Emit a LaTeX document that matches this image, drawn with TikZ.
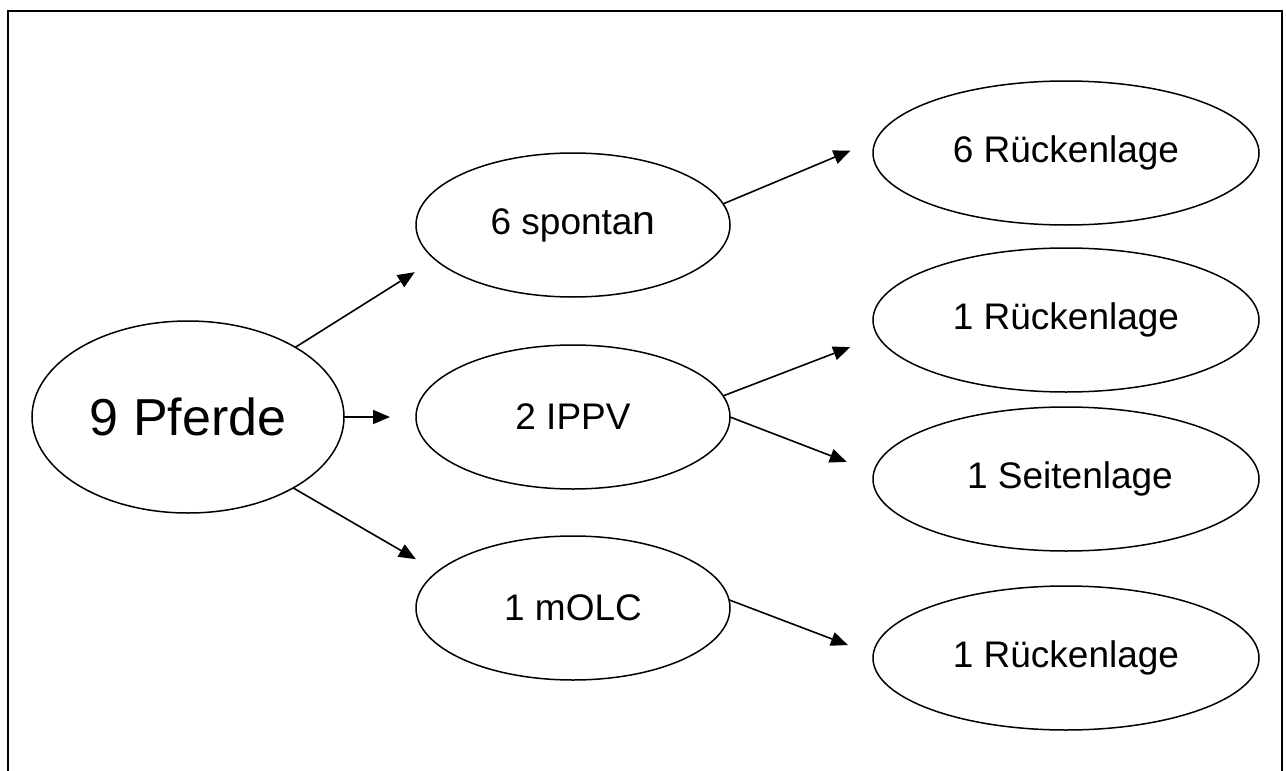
\documentclass[tikz,border=0pt]{standalone}
\usepackage{fontspec}
\setmainfont{Liberation Sans}
\usetikzlibrary{shapes.geometric,arrows.meta}
\tikzset{
  oval/.style={ellipse, draw=black, line width=1.5pt, inner sep=0pt, outer sep=0pt,
    minimum width=314pt, minimum height=144pt, font=\fontsize{37}{40}\selectfont},
  bigoval/.style={oval, minimum width=386pt},
  rootoval/.style={oval, minimum width=312pt, minimum height=192pt, font=\fontsize{52}{56}\selectfont},
  arr/.style={line width=1.6pt, -{Triangle[length=17pt,width=14pt]}},
  frame/.style={line width=2pt}
}
\begin{document}
\begin{tikzpicture}[x=1pt,y=-1pt]
\useasboundingbox (0,0) rectangle (1286,771);
\draw[frame] (7.5,790) -- (7.5,10.5) -- (1282,10.5) -- (1282,790);
\node[rootoval] (pferde) at (188,417) {9 Pferde};
\node[oval] (spontan) at (573,225) {6 sponta{\fontsize{41}{44}\selectfont n}};
\node[oval] (ippv) at (573,417) {2 IPPV};
\node[oval] (molc) at (573,608) {1 mOLC};
\node[bigoval] (r6) at (1066,153) {6 Rückenlage};
\node[bigoval] (r1) at (1066,320) {1 Rückenlage};
\node[bigoval] (seit) at (1066,479) {\hspace{8pt}1 Seitenlage};
\node[bigoval] (r1b) at (1066,658) {1 Rückenlage};
\draw[arr, shorten >=24pt] (pferde.33.8) -- (spontan.194.8);
\draw[arr, shorten >=26pt] (pferde.0) -- (ippv.180);
\draw[arr, shorten >=25pt] (pferde.326.9) -- (molc.165.6);
\draw[arr, shorten >=28pt] (spontan.8.7) -- (r6.176.9);
\draw[arr, shorten >=30pt] (ippv.8) -- (r1.185.1);
\draw[arr, shorten >=29pt] (ippv.0) -- (seit.178.2);
\draw[arr, shorten >=27pt] (molc.3.7) -- (r1b.179.1);
\end{tikzpicture}
\end{document}
